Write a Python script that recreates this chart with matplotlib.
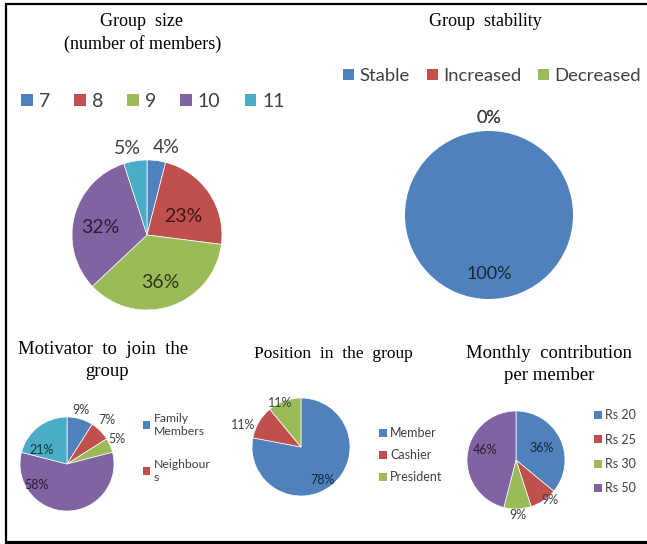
import matplotlib
matplotlib.use("Agg")
import numpy as np
import matplotlib.pyplot as plt
from matplotlib.patches import Patch
from matplotlib.lines import Line2D
from matplotlib.colors import to_rgb

# survey results (percent of respondents)
size_labels = ["7", "8", "9", "10", "11"]
size_pct = [4, 23, 36, 32, 5]

stability_labels = ["Stable", "Increased", "Decreased"]
stability_pct = [100, 0, 0]

motivator_labels = ["Family\nMembers", "Neighbour\ns"]
motivator_pct = [9, 7, 5, 58, 21]

position_labels = ["Member", "Cashier", "President"]
position_pct = [78, 11, 11]

contrib_labels = ["Rs 20", "Rs 25", "Rs 30", "Rs 50"]
contrib_pct = [36, 9, 9, 46]

BLUE, RED, GREEN, PURPLE, CYAN = "#4F81BD", "#C0504D", "#9BBB59", "#8064A2", "#4BACC6"
palette = [BLUE, RED, GREEN, PURPLE, CYAN]

W, H = 647, 544
SANS = "Lato"
SERIF = "Liberation Serif"

fig = plt.figure(figsize=(W / 100, H / 100), dpi=100)
fig.patch.set_facecolor("white")


def dark(c, k=0.3):
    r, g, b = to_rgb(c)
    return (r * k, g * k, b * k)


def pie(cx, cy, r, values, spots, size, edge=0.5):
    # one square axes per pie, placed in pixel units
    ax = fig.add_axes([(cx - r) / W, 1 - (cy + r) / H, 2 * r / W, 2 * r / H])
    cols = palette[:len(values)]
    wedges, _ = ax.pie(values, colors=cols, startangle=90, counterclock=False,
                       radius=1, wedgeprops=dict(linewidth=edge, edgecolor="white"))
    # pie() pads the limits to 1.25, pull them back so radius fills the box
    ax.set_xlim(-1, 1)
    ax.set_ylim(-1, 1)
    ax.set_aspect("equal")
    ax.axis("off")
    for w, v, c, (dist, shift) in zip(wedges, values, cols, spots):
        ang = np.deg2rad((w.theta1 + w.theta2) / 2 + shift)
        tc = "#404040" if dist > 0.95 else dark(c)
        ax.text(dist * np.cos(ang), dist * np.sin(ang), f"{v}%", ha="center",
                va="center", fontsize=size, family=SANS, color=tc)
    return ax


def legend(labels, x, y, size, ncol=1, **kw):
    handles = [Patch(facecolor=c, edgecolor="none") for c in palette[:len(labels)]]
    fig.legend(handles, labels, loc="upper left", bbox_to_anchor=(x / W, 1 - y / H),
               ncol=ncol, frameon=False, prop=dict(family=SANS, size=size),
               handlelength=0.6, handleheight=0.6, handletextpad=0.3,
               borderpad=0, borderaxespad=0, labelcolor="#404040", **kw)


def title(x, y, s, size=13):
    fig.text(x / W, 1 - y / H, s, ha="center", va="center", family=SERIF, fontsize=size)


# Group size
title(142, 22, "Group  size")
title(143, 44, "(number of members)")
legend(size_labels, 21, 93, 14, ncol=5, columnspacing=1.25)
pie(147, 235, 75, size_pct,
    [(1.19, -5), (0.55, -7), (0.66, -3), (0.63, 5), (1.19, 4)], 14)

# Group stability
title(485, 22, "Group  stability")
legend(stability_labels, 343, 68, 13.3, ncol=3, columnspacing=0.9)
pie(489, 215, 84, stability_pct, [(0.70, 0), (1.15, 0), (1.15, 0)], 13, edge=0)

# Motivator
title(103, 350, "Motivator  to  join  the", 13.5)
title(107, 372, "group", 13.5)
legend(motivator_labels, 143, 413, 8.8, labelspacing=1.8)
pie(67, 464, 47, motivator_pct,
    [(1.18, 2), (1.26, 3), (1.18, 3), (0.78, -55), (0.61, 23)], 9)

# Position in the group
title(333, 354, "Position  in  the  group", 12.5)
legend(position_labels, 379, 427, 9, labelspacing=0.8)
pie(301, 447, 49, position_pct, [(0.8, -7), (1.27, 10), (1.0, 6)], 9)

# Monthly contribution
title(549, 353, "Monthly  contribution", 13.5)
title(549, 376, "per member", 13.5)
legend(contrib_labels, 594, 409, 9, labelspacing=1.0)
pie(516, 460, 49, contrib_pct, [(0.58, 0), (1.07, 6), (1.12, 0), (0.66, -11)], 9)

# outer frame (top, left, bottom)
frame = dict(color="black", transform=fig.transFigure, solid_capstyle="butt")
fig.add_artist(Line2D([5 / W, 1], [1 - 4 / H] * 2, linewidth=1.6, **frame))
fig.add_artist(Line2D([6 / W] * 2, [1 - 3 / H, 0], linewidth=1.6, **frame))
fig.add_artist(Line2D([5 / W, 1], [1 - 542.5 / H] * 2, linewidth=3, **frame))

fig.savefig("out.png", dpi=100)
